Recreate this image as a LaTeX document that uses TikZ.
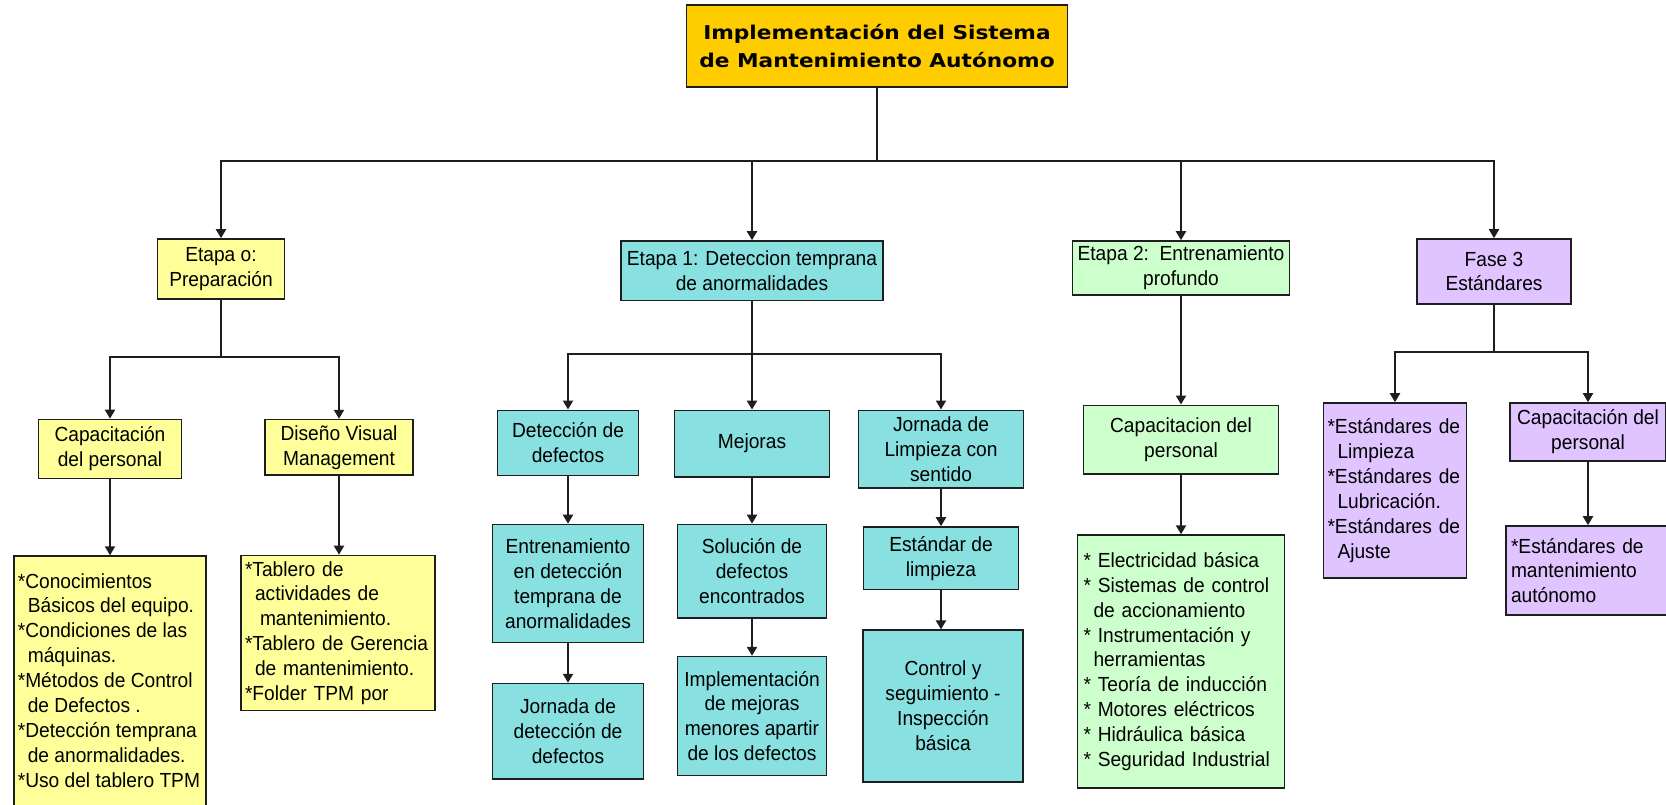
\documentclass[tikz,border=0pt]{standalone}
\usepackage{fontspec}
\setmainfont{Liberation Sans}[FakeStretch=0.94]
\newfontfamily\titlefont{DejaVu Sans}[FakeStretch=1.14]
\usetikzlibrary{arrows.meta}

\definecolor{gold}{HTML}{FFCC00}
\definecolor{paleyellow}{HTML}{FFFF99}
\definecolor{aqua}{HTML}{88E0E0}
\definecolor{mint}{HTML}{CCFFCC}
\definecolor{lilac}{HTML}{E0C4FF}
\definecolor{ink}{HTML}{1E1E1E}

\tikzset{
  box/.style={draw=ink, line width=1.6pt, inner sep=0pt, align=center,
    font=\fontsize{20.4}{24.9}\selectfont},
  ybox/.style={box, fill=paleyellow},
  cbox/.style={box, fill=aqua},
  gbox/.style={box, fill=mint},
  pbox/.style={box, fill=lilac},
  listbox/.style={align=left, inner xsep=#1},
  titlebox/.style={box, fill=gold, font=\titlefont\bfseries\fontsize{19}{28}\selectfont},
  link/.style={draw=ink, line width=2pt, -{Triangle[width=10pt,length=9pt]}},
}

% bullet star that survives a preceding line break
\newcommand{\bul}{{}*}
\newcommand{\ind}[1]{\hspace*{#1pt}}

\begin{document}
\begin{tikzpicture}[x=1pt,y=-1pt]
\useasboundingbox (0,0) rectangle (1666,805);
\clip (0,0) rectangle (1666,805);
\fill[white] (0,0) rectangle (1666,805);

% root
\node[titlebox, minimum width=381, minimum height=82] (top) at (877,46)
  {Implementación del Sistema\\de Mantenimiento Autónomo};

% stages
\node[ybox, minimum width=127, minimum height=60] (e0) at (221,269) {Etapa o:\\Preparación};
\node[cbox, minimum width=262, minimum height=59.4] (e1) at (752,270.7) {Etapa 1: Deteccion temprana\\de anormalidades};
\node[gbox, minimum width=217, minimum height=54] (e2) at (1181,268) {Etapa 2:\ \ Entrenamiento\\profundo};
\node[pbox, minimum width=154, minimum height=65] (f3) at (1494,271.5) {Fase 3\\Estándares};

% stage 0
\node[ybox, minimum width=143, minimum height=59] (cap0) at (110,449) {Capacitación\\del personal};
\node[ybox, minimum width=148, minimum height=55.4] (dis) at (339,447.3) {Diseño Visual\\Management};
\node[ybox, anchor=north west, inner xsep=4pt, minimum width=192] (con) at (13,555.3)
  {\parbox[c][280pt][t]{184pt}{\raggedright\vspace*{14.5pt}\strut*Conocimientos\\
   \ind{10}Básicos del equipo.\\
   \bul Condiciones de las\\
   \ind{10}máquinas.\\
   \bul Métodos de Control\\
   \ind{10}de Defectos .\\
   \bul Detección temprana\\
   \ind{10}de anormalidades.\\
   \bul Uso del tablero TPM}};
\node[ybox, listbox=4pt, text width=186, minimum height=155] (tab) at (338,633)
  {*Tablero de\\
   \ind{10}actividades de\\
   \ind{15}mantenimiento.\\
   \bul Tablero de Gerencia\\
   \ind{10}de mantenimiento.\\
   \bul Folder TPM por};

% stage 1
\node[cbox, minimum width=141, minimum height=65.3] (det) at (568,443) {Detección de\\defectos};
\node[cbox, minimum width=155, minimum height=66.4] (mej) at (752,443.6) {Mejoras};
\node[cbox, minimum width=165, minimum height=77.4] (jor) at (941,449) {Jornada de\\Limpieza con\\sentido};
\node[cbox, minimum width=151, minimum height=118] (ent) at (568,583.5) {Entrenamiento\\en detección\\temprana de\\anormalidades};
\node[cbox, minimum width=151, minimum height=95.4] (jdd) at (568,731.3) {Jornada de\\detección de\\defectos};
\node[cbox, minimum width=149, minimum height=93.5] (sol) at (752,571.2) {Solución de\\defectos\\encontrados};
\node[cbox, minimum width=149, minimum height=118.8] (imp) at (752,716) {Implementación\\de mejoras\\menores apartir\\de los defectos};
\node[cbox, minimum width=155, minimum height=62.4] (est) at (941,558.2) {Estándar de\\limpieza};
\node[cbox, minimum width=160, minimum height=151.5] (ctl) at (943,706) {Control y\\seguimiento -\\Inspección\\básica};

% stage 2
\node[gbox, minimum width=195, minimum height=68.6] (capB) at (1181,439.6) {Capacitacion del\\personal};
\node[gbox, listbox=6pt, text width=195, minimum height=253] (ele) at (1181,661.6)
  {* Electricidad básica\\
   \bul\ Sistemas de control\\
   \ind{10}de accionamiento\\
   \bul\ Instrumentación y\\
   \ind{10}herramientas\\
   \bul\ Teoría de inducción\\
   \bul\ Motores eléctricos\\
   \bul\ Hidráulica básica\\
   \bul\ Seguridad Industrial\\[-6pt]};

% stage 3
\node[pbox, listbox=4pt, text width=135, minimum height=175] (stdL) at (1395,490.5)
  {*Estándares de\\
   \ind{10}Limpieza\\
   \bul Estándares de\\
   \ind{10}Lubricación.\\
   \bul Estándares de\\
   \ind{10}Ajuste};
\node[pbox, minimum width=156, minimum height=58] (capC) at (1588,432) {Capacitación del\\personal};
\node[pbox, listbox=5pt, text width=160, minimum height=89] (man) at (1591,570.5)
  {*Estándares de\\mantenimiento\\autónomo};

% branch levels
\coordinate (j0) at (0,161);
\coordinate (j1) at (0,357);
\coordinate (j2) at (0,354);
\coordinate (j3) at (0,352);

% root to stages
\draw[link] (top.south) -- (top.south |- j0) -| (e0.north);
\draw[link] (top.south) -- (top.south |- j0) -| (e1.north);
\draw[link] (top.south) -- (top.south |- j0) -| (e2.north);
\draw[link] (top.south) -- (top.south |- j0) -| (f3.north);

% stage 0 branches
\draw[link] (e0.south) -- (e0.south |- j1) -| (cap0.north);
\draw[link] (e0.south) -- (e0.south |- j1) -| (dis.north);
\draw[link] (cap0.south) -- (cap0.south |- con.north);
\draw[link] (dis.south) -- (dis.south |- tab.north);

% stage 1 branches
\draw[link] (e1.south) -- (e1.south |- j2) -| (det.north);
\draw[link] (e1.south) -- (e1.south |- j2) -| (mej.north);
\draw[link] (e1.south) -- (e1.south |- j2) -| (jor.north);
\draw[link] (det.south) -- (det.south |- ent.north);
\draw[link] (ent.south) -- (ent.south |- jdd.north);
\draw[link] (mej.south) -- (mej.south |- sol.north);
\draw[link] (sol.south) -- (sol.south |- imp.north);
\draw[link] (jor.south) -- (jor.south |- est.north);
\draw[link] (est.south) -- (est.south |- ctl.north);

% stage 2 chain
\draw[link] (e2.south) -- (e2.south |- capB.north);
\draw[link] (capB.south) -- (capB.south |- ele.north);

% stage 3 branches
\draw[link] (f3.south) -- (f3.south |- j3) -| (stdL.north);
\draw[link] (f3.south) -- (f3.south |- j3) -| (capC.north);
\draw[link] (capC.south) -- (capC.south |- man.north);
\end{tikzpicture}
\end{document}
